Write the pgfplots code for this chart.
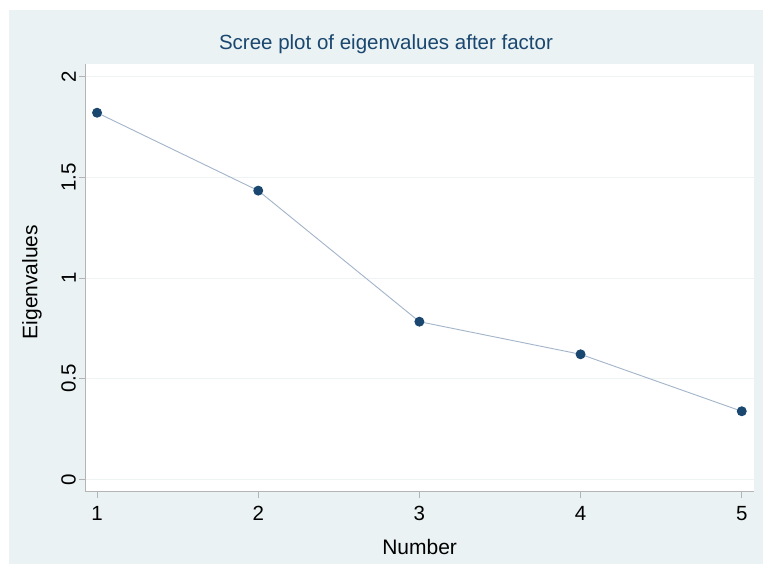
\documentclass[border=0pt]{standalone}
\usepackage{pgfplots}
\pgfplotsset{compat=1.18}
\usepackage{fontspec}
\setmainfont{Liberation Sans}
\definecolor{bg}{HTML}{EAF2F3}
\definecolor{navy}{HTML}{1A476F}
\definecolor{ln}{HTML}{A3B5C9}
\definecolor{axc}{HTML}{B4B4B4}
\definecolor{gridc}{HTML}{EEF3F4}
\begin{document}
\begin{tikzpicture}[x=1pt,y=1pt]
\path[use as bounding box] (0,0) rectangle (763,563);
\fill[bg] (9,-1) rectangle (764,553);
\begin{axis}[
  at={(85.3pt,71.3pt)}, anchor=south west,
  scale only axis, width=668.7pt, height=427.4pt,
  xmin=0.927, xmax=5.076, ymin=-0.0616, ymax=2.0616,
  axis x line*=bottom, axis y line*=left,
  axis line style={axc, line width=1pt, -},
  axis background/.style={fill=white},
  xtick={1,2,3,4,5}, ytick={0,0.5,1,1.5,2},
  /pgf/number format/assume math mode=true,
  tick align=outside, major tick length=6pt,
  tick style={axc, line width=0.8pt},
  ymajorgrids, grid style={gridc, line width=0.7pt},
  ticklabel style={font=\fontsize{20.5}{20.5}\selectfont, black},
  yticklabel style={rotate=90, anchor=south},
  xticklabel style={yshift=-5pt},
  every axis title shift=0pt,
  title={Scree plot of eigenvalues after factor},
  title style={at={(rel axis cs:0.4497,1.0335)}, anchor=base, font=\fontsize{20.5}{20.5}\selectfont, navy},
  xlabel={Number},
  xlabel style={at={(rel axis cs:0.5,-0.1458)}, anchor=base, font=\fontsize{21}{21}\selectfont},
  ylabel={Eigenvalues},
  ylabel style={at={(rel axis cs:-0.0797,0.4906)}, anchor=center, rotate=0, font=\fontsize{21}{21}\selectfont},
]
\addplot[ln, line width=0.9pt, mark=*, mark size=4.5pt, mark options={fill=navy, draw=navy}]
coordinates {(1,1.821) (2,1.434) (3,0.783) (4,0.621) (5,0.338)};
\end{axis}
\end{tikzpicture}
\end{document}
